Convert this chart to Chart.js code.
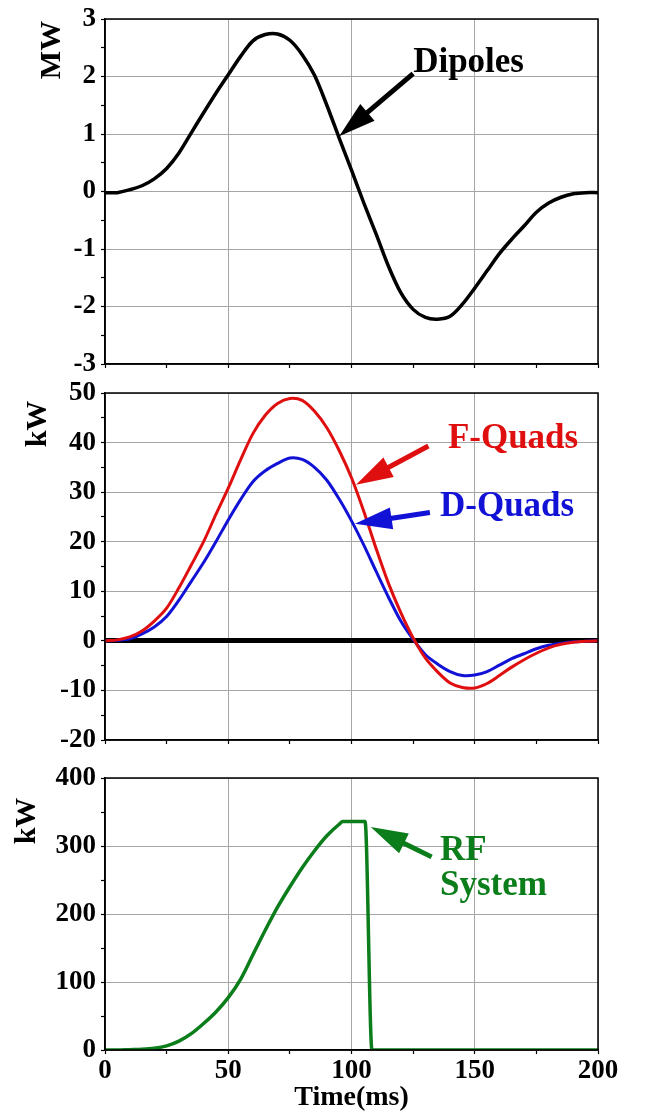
<!DOCTYPE html>
<html>
<head>
<meta charset="utf-8">
<script src="https://cdn.jsdelivr.net/npm/chart.js@4.4.1/dist/chart.umd.min.js"></script>
<style>
  body { margin: 0; background: #fff; }
  #wrap { position: relative; width: 646px; height: 1112px; overflow: hidden; }
  canvas { position: absolute; left: 0; }
</style>
</head>
<body>
<div id="wrap">
  <canvas id="dipoleChart" width="646" height="394" style="top:0"></canvas>
  <canvas id="quadChart" width="646" height="398" style="top:372px"></canvas>
  <canvas id="rfChart" width="646" height="364" style="top:748px"></canvas>
</div>
<script>
// data (time in ms)
const time = [0, 5, 10, 15, 20, 25, 30, 35, 40, 45, 50, 55, 60, 65, 70, 75, 80, 85, 90, 95, 100,
  105, 110, 115, 120, 125, 130, 135, 140, 145, 150, 155, 160, 165, 170, 175, 180, 185, 190, 195, 200]
const dipoles = [-0.02, -0.02, 0.03, 0.10, 0.22, 0.40, 0.67, 1.02, 1.37, 1.71, 2.03, 2.35, 2.62, 2.73, 2.74, 2.63, 2.38,
  2.02, 1.50, 0.93, 0.37, -0.20, -0.74, -1.30, -1.76, -2.05, -2.19, -2.22, -2.17, -1.96, -1.68, -1.38, -1.08,
  -0.83, -0.60, -0.36, -0.20, -0.10, -0.04, -0.02, -0.02]
const fQuads = [0, 0.2, 0.8, 2.0, 4.0, 6.6, 10.7, 15.3, 20.0, 25.5, 30.8, 36.5, 41.8, 45.5, 47.9, 48.9, 48.5,
  46.3, 43.0, 38.4, 32.9, 26.1, 18.6, 11.6, 5.7, 0.6, -3.5, -6.3, -8.5, -9.4, -9.5, -8.6, -7.0,
  -5.3, -3.8, -2.5, -1.4, -0.7, -0.3, -0.1, 0]
const dQuads = [0, 0.1, 0.4, 1.4, 2.8, 4.9, 8.2, 12.0, 15.8, 20.0, 24.4, 28.5, 32.1, 34.3, 35.8, 36.9, 36.6,
  35.0, 32.4, 28.6, 24.2, 19.3, 14.0, 8.8, 4.0, 0.3, -2.8, -4.7, -6.2, -7.0, -6.9, -6.2, -4.9,
  -3.6, -2.6, -1.6, -0.9, -0.5, -0.2, -0.1, 0]
const rfTime = [0, 5, 10, 15, 20, 25, 30, 35, 40, 45, 50, 55, 60, 65, 70, 75, 80, 85, 90, 95, 96.5, 105.5, 108.3, 200]
const rfPower = [0, 0, 0.5, 1, 2.5, 6, 13, 24, 39, 56, 77, 104, 140, 176, 210, 240, 268, 293, 315, 332, 336, 336, 0, 0]

// tick labels
const timeTicks = [0, 50, 100, 150, 200]
const mwTicks = [-3, -2, -1, 0, 1, 2, 3]
const quadTicks = [-20, -10, 0, 10, 20, 30, 40, 50]
const rfTicks = [0, 100, 200, 300, 400]

const SERIF = "'Liberation Serif', 'Times New Roman', serif"
const GRID = '#a6a6a6'
const tickFont = { family: SERIF, size: 27, weight: 'bold', lineHeight: 1 }

const pairs = (xs, ys) => xs.map((x, i) => ({ x, y: ys[i] }))

const line = (label, data, color, width, smooth) => ({
  label, data, borderColor: color, borderWidth: width, pointRadius: 0,
  tension: smooth ? 0.3 : 0, cubicInterpolationMode: smooth ? 'default' : 'monotone',
  borderJoinStyle: 'round', borderCapStyle: 'round'
})

const xScale = (showLabels, height) => ({
  type: 'linear', min: 0, max: 200,
  afterFit: s => { s.height = height },
  ticks: {
    stepSize: 25, maxTicksLimit: 100, autoSkip: false, maxRotation: 0, padding: 4,
    color: '#000', font: tickFont,
    callback: v => (showLabels && timeTicks.includes(v)) ? String(v) : ''
  },
  grid: {
    color: c => timeTicks.includes(c.tick.value) ? GRID : 'rgba(0,0,0,0)',
    lineWidth: 1, tickColor: '#000', tickLength: 4, tickWidth: 1.2
  },
  border: { color: '#000', width: 1.5 }
})

const yScale = (labels, step, zeroLine) => ({
  type: 'linear', min: labels[0], max: labels[labels.length - 1],
  afterFit: s => { s.width = 105 },
  ticks: {
    stepSize: step, maxTicksLimit: 100, autoSkip: false, padding: 5,
    color: '#000', font: tickFont,
    callback: v => labels.includes(v) ? String(v) : ''
  },
  grid: {
    color: c => (zeroLine && c.tick.value === 0) ? '#000' : labels.includes(c.tick.value) ? GRID : 'rgba(0,0,0,0)',
    lineWidth: c => (zeroLine && c.tick.value === 0) ? 5 : 1,
    tickColor: '#000', tickLength: 4, tickWidth: 1.2
  },
  border: { color: '#000', width: 1.5 }
})

function drawArrow(ctx, from, to, color) {
  const ang = Math.atan2(to[1] - from[1], to[0] - from[0])
  const head = 37, half = 11
  const cos = Math.cos(ang), sin = Math.sin(ang)
  const bx = to[0] - head * cos, by = to[1] - head * sin
  ctx.strokeStyle = color
  ctx.fillStyle = color
  ctx.lineWidth = 5
  ctx.lineCap = 'butt'
  ctx.beginPath()
  ctx.moveTo(from[0], from[1])
  ctx.lineTo(bx + 3 * cos, by + 3 * sin)
  ctx.stroke()
  ctx.beginPath()
  ctx.moveTo(to[0], to[1])
  ctx.lineTo(bx - half * sin, by + half * cos)
  ctx.lineTo(bx + half * sin, by - half * cos)
  ctx.closePath()
  ctx.fill()
}

// frame, unit title, arrows and callouts (anchored in data units)
function notes(cfg) {
  return {
    id: 'notes',
    afterDatasetsDraw(chart) {
      const { ctx, chartArea: a, scales } = chart
      const px = p => [scales.x.getPixelForValue(p[0]), scales.y.getPixelForValue(p[1])]
      ctx.save()
      ctx.strokeStyle = '#000'
      ctx.lineWidth = 1.5
      ctx.strokeRect(a.left, a.top, a.right - a.left, a.bottom - a.top)

      cfg.arrows.forEach(ar => drawArrow(ctx, px(ar.from), px(ar.to), ar.color))

      ctx.font = 'bold 35px ' + SERIF
      ctx.textAlign = 'left'
      ctx.textBaseline = 'alphabetic'
      cfg.labels.forEach(l => {
        const [x, y] = px(l.at)
        ctx.fillStyle = l.color
        ctx.fillText(l.text, x, y)
      })

      ctx.font = 'bold 30px ' + SERIF
      ctx.fillStyle = '#000'
      ctx.textAlign = 'center'
      ctx.textBaseline = 'middle'
      ctx.translate(a.left - cfg.unit.dx, a.top + cfg.unit.dy)
      ctx.rotate(-Math.PI / 2)
      ctx.fillText(cfg.unit.text, 0, 0)
      ctx.restore()
    }
  }
}

const common = {
  responsive: false,
  animation: false,
  devicePixelRatio: 1,
  plugins: { legend: { display: false }, tooltip: { enabled: false } }
}

new Chart(document.getElementById('dipoleChart'), {
  type: 'line',
  data: { datasets: [line('Dipoles', pairs(time, dipoles), '#000', 3.5, true)] },
  options: {
    ...common,
    layout: { padding: { top: 19, right: 48, left: 0, bottom: 0 } },
    scales: { x: xScale(false, 30), y: yScale(mwTicks, 0.5, false) }
  },
  plugins: [notes({
    unit: { text: 'MW', dx: 53, dy: 31 },
    arrows: [{ from: [125, 2.05], to: [95.0, 0.96], color: '#000' }],
    labels: [{ text: 'Dipoles', at: [125, 2.08], color: '#000' }]
  })]
})

new Chart(document.getElementById('quadChart'), {
  type: 'line',
  data: {
    datasets: [
      line('F-Quads', pairs(time, fQuads), '#e00f0f', 3, true),
      line('D-Quads', pairs(time, dQuads), '#1212d6', 3, true)
    ]
  },
  options: {
    ...common,
    layout: { padding: { top: 21, right: 48, left: 0, bottom: 0 } },
    scales: { x: xScale(false, 30), y: yScale(quadTicks, 5, true) }
  },
  plugins: [notes({
    unit: { text: 'kW', dx: 67, dy: 31 },
    arrows: [
      { from: [131.2, 39.3], to: [101.8, 31.5], color: '#e00f0f' },
      { from: [131.8, 25.9], to: [101.4, 23.6], color: '#1212d6' }
    ],
    labels: [
      { text: 'F-Quads', at: [139.1, 39.0], color: '#e00f0f' },
      { text: 'D-Quads', at: [135.9, 25.1], color: '#1212d6' }
    ]
  })]
})

const rfX = xScale(true, 62)
rfX.title = {
  display: true, text: 'Time(ms)', color: '#000',
  font: { family: SERIF, size: 28, weight: 'bold', lineHeight: 1 },
  padding: { top: 0, bottom: 0.5 }
}

new Chart(document.getElementById('rfChart'), {
  type: 'line',
  data: { datasets: [line('RF System', pairs(rfTime, rfPower), '#0b7d1a', 3.5, false)] },
  options: {
    ...common,
    layout: { padding: { top: 30, right: 48, left: 0, bottom: 0 } },
    scales: { x: rfX, y: yScale(rfTicks, 50, false) }
  },
  plugins: [notes({
    unit: { text: 'kW', dx: 78, dy: 43 },
    arrows: [{ from: [132.5, 284], to: [107.8, 328], color: '#0b7d1a' }],
    labels: [
      { text: 'RF', at: [135.9, 280], color: '#0b7d1a' },
      { text: 'System', at: [135.9, 228], color: '#0b7d1a' }
    ]
  })]
})
</script>
</body>
</html>
